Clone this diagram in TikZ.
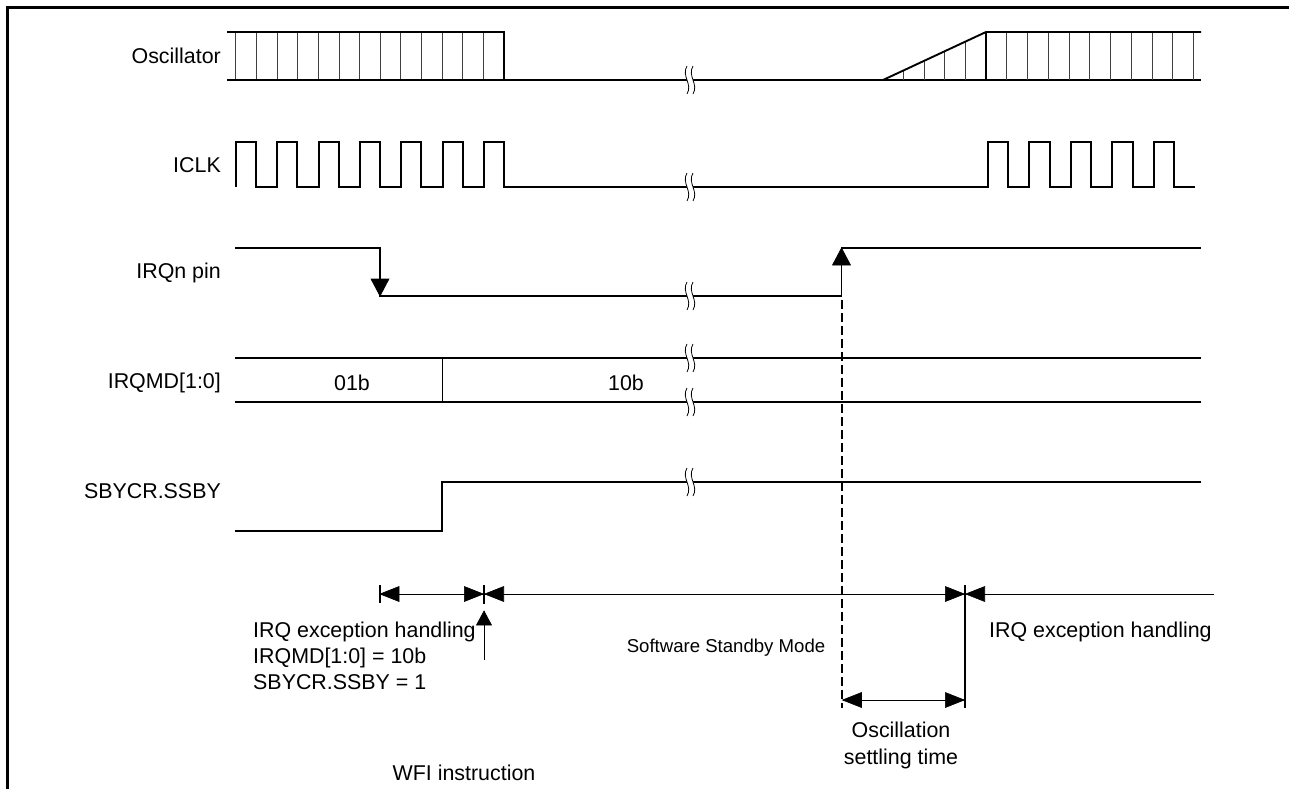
\documentclass[tikz,border=0pt]{standalone}
\usepackage{fontspec}
\setmainfont{Liberation Sans}
\tikzset{
  sig/.style={line width=1.9pt, line join=miter},
  hair/.style={line width=1pt},
  grid/.style={line width=0.9pt, black!75},
  tk/.style={line width=1.4pt},
  head/.style={fill=black, draw=black, line width=0.6pt, line join=miter},
  lbl/.style={font=\fontsize{21.4}{26}\selectfont, inner sep=0pt},
  smalltxt/.style={font=\fontsize{18.6}{22}\selectfont, inner sep=0pt},
  brk/.pic={
    \fill[white] (-3,-14) .. controls (-9,-4) and (3,4) .. (-3,14)
       -- (3,14) .. controls (9,4) and (-3,-4) .. (3,-14) -- cycle;
    \draw[line width=0.8pt] (-3,-14) .. controls (-9,-4) and (3,4) .. (-3,14);
    \draw[line width=0.8pt] (3,-14) .. controls (-3,-4) and (9,4) .. (3,14);
  },
  % horizontal arrow head pointing left (tip at origin)
  hl/.pic={\path[head] (0,0) -- (19,-7.5) -- (19,7.5) -- cycle;},
  % horizontal arrow head pointing right (tip at origin)
  hr/.pic={\path[head] (0,0) -- (-19,-7.5) -- (-19,7.5) -- cycle;},
  % vertical arrow heads
  vd/.pic={\path[head] (0,0) -- (-9,-17) -- (9,-17) -- cycle;},
  vu/.pic={\path[head] (0,0) -- (-9,17) -- (9,17) -- cycle;},
  vus/.pic={\path[head] (0,0) -- (-7.5,14) -- (7.5,14) -- cycle;}
}
\begin{document}
\begin{tikzpicture}[x=1pt,y=-1pt]
\useasboundingbox (0,0) rectangle (1289,789);
% frame
\draw[line width=3pt] (7,789) -- (7,8) -- (1289,8);

% ---------- Oscillator ----------
\node[lbl, anchor=base east] (lOsc) at (221,63.7) {Oscillator};
\foreach \i in {0,...,12} \draw[grid] (235.7+20.65*\i,32) -- (235.7+20.65*\i,80);
\draw[sig] (227,32) -- (503.6,32) -- (503.6,80);
\draw[sig] (227,80) -- (1201,80);
\foreach \i in {1,...,4} \draw[grid] (883+20.6*\i,80) -- (883+20.6*\i,{80-20.6*\i*48/103});
\foreach \i in {1,...,10} \draw[grid] (986+20.75*\i,32) -- (986+20.75*\i,80);
\draw[sig] (883,80) -- (986,32) -- (1201,32);
\draw[line width=1.2pt] (986,32) -- (986,80);
\pic at (690,80) {brk};

% ---------- ICLK ----------
\node[lbl, anchor=base east] (lClk) at (221,172.2) {ICLK};
\draw[sig] (235.7,187) foreach \k in {0,...,6} { -- ++(0,-45) -- ++(20,0) -- ++(0,45) -- ++(21.43,0) }
  -- (987.7,187) foreach \k in {0,...,4} { -- ++(0,-45) -- ++(20.5,0) -- ++(0,45) -- ++(21,0) };
\pic at (690,187) {brk};

% ---------- IRQn pin ----------
\node[lbl, anchor=base east] (lIrq) at (221,278.7) {IRQn pin};
\coordinate (fall) at (380,248);
\coordinate (fallLo) at (380,296);
\coordinate (rise) at (841.5,296);
\coordinate (riseHi) at (841.5,248);
\draw[sig] (235,248) -- (fall) -- (fallLo) -- (rise) -- (riseHi) -- (1201,248);
\pic at (fallLo) {vd};
\pic at (riseHi) {vu};
\pic at (690,296) {brk};

% ---------- IRQMD[1:0] ----------
\node[lbl, anchor=base east] (lMd) at (221,388.7) {IRQMD[1:0]};
\draw[sig] (235,358) -- (1201,358);
\draw[sig] (235,402) -- (1201,402);
\draw[hair] (442.4,358) -- (442.4,402);
\node[lbl, anchor=base] (v01) at (352,390.7) {01b};
\node[lbl, anchor=base] (v10) at (626,390.7) {10b};
\pic at (690,358) {brk};
\pic at (690,402) {brk};

% ---------- SBYCR.SSBY ----------
\node[lbl, anchor=base east] (lSby) at (221,498) {SBYCR.SSBY};
\draw[sig] (235,531) -- (442,531) -- (442,482) -- (1201,482);
\pic at (690,482) {brk};

% ---------- dashed wake-up line ----------
\coordinate (dashEnd) at (841.5,708);
\draw[line width=2pt, dash pattern=on 9pt off 4pt] (841.5,300) -- (dashEnd);

% ---------- bottom time line ----------
\coordinate (t0) at (380,594);
\coordinate (t1a) at (483.3,594);
\coordinate (t1b) at (484.7,594);
\coordinate (t2a) at (964.3,594);
\coordinate (t2b) at (965.7,594);
\coordinate (t3) at (1214,594);
\draw[tk] (380,585) -- (380,603);
\draw[tk] (484,585) -- (484,604);
\draw[tk] (965,585) -- (965,708);
\draw[hair] (t0) -- (t1a);
\draw[hair] (t1b) -- (t2a);
\draw[hair] (t2b) -- (t3);
\pic at (t0) {hl};
\pic at (t1a) {hr};
\pic at (t1b) {hl};
\pic at (t2a) {hr};
\pic at (t2b) {hl};
\coordinate (wfiFoot) at (484,660);
\coordinate (wfiTip) at (484,611);
\draw[hair] (wfiFoot) -- (wfiTip);
\pic at (wfiTip) {vus};
% oscillation settling time
\coordinate (s0) at (842.5,700);
\coordinate (s1) at (964.3,700);
\draw[hair] (s0) -- (s1);
\pic at (s0) {hl};
\pic at (s1) {hr};

% ---------- labels ----------
\node[lbl, anchor=base west] (exc1) at (253,637) {IRQ exception handling};
\node[lbl, anchor=base west] (exc2) at (253,663.5) {IRQMD[1:0] = 10b};
\node[lbl, anchor=base west] (exc3) at (253,689) {SBYCR.SSBY = 1};
\node[smalltxt, anchor=base] (ssm) at (726,652.4) {Software Standby Mode};
\node[lbl, anchor=base west] (exc4) at (989,637) {IRQ exception handling};
\node[lbl, anchor=base] (ost1) at (901,737.7) {Oscillation};
\node[lbl, anchor=base] (ost2) at (901,764.7) {settling time};
\node[lbl, anchor=base] (wfi) at (464,780.7) {WFI instruction};
\end{tikzpicture}
\end{document}
